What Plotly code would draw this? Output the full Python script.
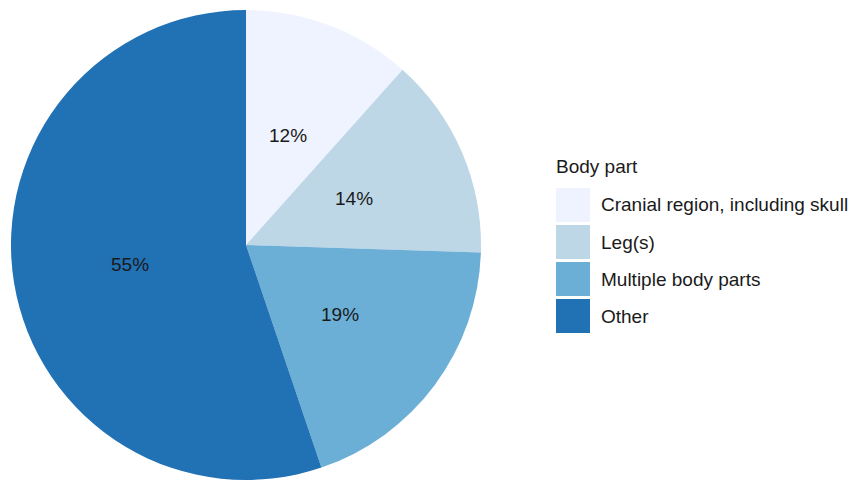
import numpy as np
import plotly.graph_objects as go

# data
body_parts = ['Cranial region, including skull', 'Leg(s)', 'Multiple body parts', 'Other']
shares = [11.6, 13.9, 19.3, 55.2]
colors = ['#eff3ff', '#bdd7e7', '#6baed6', '#2171b5']
legend_title = 'Body part'

W, H = 859, 481
FONT = 'Liberation Sans, Arial, sans-serif'
TXT = '#1a1a1a'
FS = 19

# pie placement in pixels (centre and radius)
cx, cy, R = 246, 245, 235

fig = go.Figure()
fig.add_trace(go.Pie(
    labels=body_parts,
    values=shares,
    marker=dict(colors=colors, line=dict(width=0)),
    sort=False,
    direction='clockwise',
    rotation=0,
    textinfo='none',
    hoverinfo='label+percent',
    showlegend=False,
    domain=dict(x=[(cx - R) / W, (cx + R) / W], y=[1 - (cy + R) / H, 1 - (cy - R) / H]),
))

# percentage labels at half radius, mid-angle of each slice
vals = np.array(shares, dtype=float)
frac = vals / vals.sum()
mid = (np.cumsum(frac) - frac / 2) * 2 * np.pi
for f, a in zip(frac, mid):
    fig.add_annotation(
        x=(cx + 0.5 * R * np.sin(a)) / W,
        y=1 - (cy - 0.5 * R * np.cos(a)) / H,
        xref='paper', yref='paper',
        xanchor='center', yanchor='middle',
        text=f'{round(f * 100):.0f}%',
        showarrow=False,
        font=dict(size=FS, color=TXT, family=FONT),
    )

# legend drawn by hand to get the big swatches
lx, ly, sw, gap = 556, 188, 34, 3
fig.add_annotation(
    x=(lx - 2) / W, y=1 - 166 / H, xref='paper', yref='paper',
    text=legend_title, showarrow=False, xanchor='left', yanchor='middle',
    font=dict(size=FS, color=TXT, family=FONT),
)
for i, (name, c) in enumerate(zip(body_parts, colors)):
    top = ly + i * (sw + gap)
    fig.add_shape(
        type='rect', xref='paper', yref='paper',
        x0=lx / W, x1=(lx + sw) / W, y0=1 - (top + sw) / H, y1=1 - top / H,
        fillcolor=c, line=dict(width=0),
    )
    fig.add_annotation(
        x=599 / W, y=1 - (top + sw / 2) / H, xref='paper', yref='paper',
        text=name, showarrow=False, xanchor='left', yanchor='middle',
        font=dict(size=FS, color=TXT, family=FONT),
    )

fig.update_layout(
    width=W, height=H,
    margin=dict(l=0, r=0, t=0, b=0),
    paper_bgcolor='white',
    plot_bgcolor='white',
    font=dict(family=FONT),
)

# drop the default 8px body margin so the figure sits at the window origin
fig.write_html("out.html", config={'displayModeBar': False},
               post_script="document.body.style.margin='0';")
